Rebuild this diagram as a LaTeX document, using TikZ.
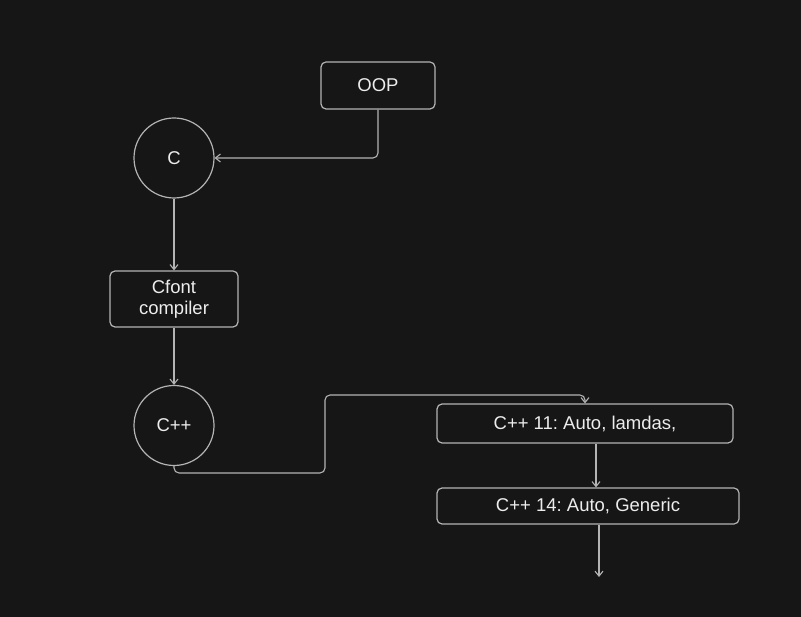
\documentclass[tikz,border=0pt]{standalone}
\usepackage{fontspec}
\setmainfont{Liberation Sans}
\usetikzlibrary{arrows.meta}
\definecolor{bg}{HTML}{161616}
\definecolor{ln}{HTML}{B4B4B4}
\definecolor{tx}{HTML}{EDEDED}
\frenchspacing
\begin{document}
\begin{tikzpicture}[x=1pt,y=-1pt,
  box/.style={draw=ln,line width=1.2pt,rounded corners=5pt,inner sep=0pt,text=tx,font=\fontsize{18.5}{21}\selectfont,align=center},
  circ/.style={draw=ln,line width=1.2pt,circle,inner sep=0pt,minimum size=80pt,text=tx,font=\fontsize{18.5}{21}\selectfont},
  conn/.style={draw=ln,line width=1.1pt,rounded corners=5pt,-{Straight Barb[length=5pt,width=8pt]}}]
\fill[bg] (0,0) rectangle (801,617);
\useasboundingbox (0,0) rectangle (801,617);
\node[box,minimum width=114pt,minimum height=47pt] (oop) at (378,85.5) {OOP};
\node[circ] (c) at (174,158) {C};
\node[box,minimum width=128pt,minimum height=56pt] (cfont) at (174,299) {Cfont\\compiler};
\node[circ,minimum size=80pt] (cpp) at (174,425.5) {C++};
\node[box,minimum width=296pt,minimum height=39pt] (c11) at (585,423.5) {C++ 11: Auto, lamdas,};
\node[box,minimum width=302pt,minimum height=36pt] (c14) at (588,506) {C++ 14: Auto, Generic};
\coordinate (x596) at (596,0);
\coordinate (x599) at (599,0);
\coordinate (bend1) at (325,473);
\coordinate (bend2) at (325,395);
\coordinate (endp) at (599,577);
\draw[conn] (oop.south) |- (c.east);
\draw[conn] (c.south) -- (cfont.north);
\draw[conn] (cfont.south) -- (cpp.north);
\draw[conn] (cpp.south) |- (bend1) -- (bend2) -| (c11.north);
\draw[conn] (c11.south -| x596) -- (c14.north -| x596);
\draw[conn] (c14.south -| x599) -- (endp);
\end{tikzpicture}
\end{document}
